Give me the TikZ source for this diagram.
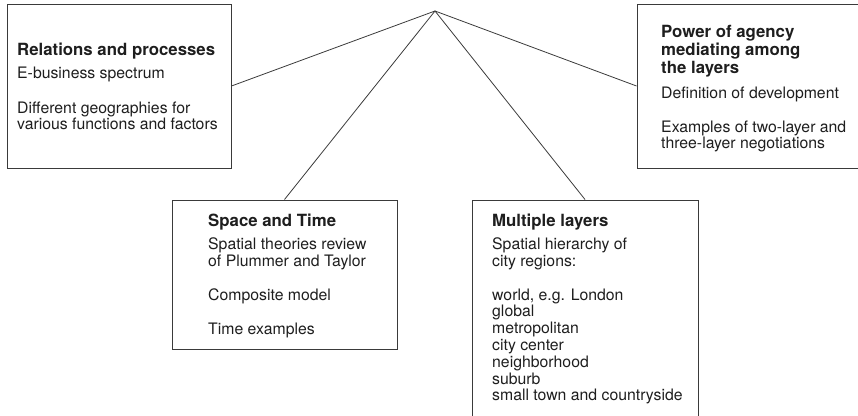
\documentclass[tikz,border=0pt]{standalone}
\usepackage{fontspec}
\setmainfont{TeX Gyre Heros}
\definecolor{ln}{HTML}{3A3A3A}
\definecolor{tx}{HTML}{1E1E1E}
\tikzset{
  boxshape/.style={draw=ln, line width=1pt, inner sep=0pt, rectangle},
  conn/.style={draw=ln, line width=0.8pt},
  ttl/.style={anchor=base west, inner sep=0pt, text=tx, font=\fontsize{16.8}{18}\selectfont\bfseries},
  bod/.style={anchor=base west, inner sep=0pt, text=tx, font=\fontsize{15.8}{16.8}\selectfont},
}
\begin{document}
\begin{tikzpicture}[x=1pt,y=-1pt]
\useasboundingbox (0,0) rectangle (858,415);
\clip (0,0) rectangle (858,415);
% boxes
\node[boxshape, minimum width=224pt, minimum height=164pt] (rel) at (119,86) {};
\node[boxshape, minimum width=226pt, minimum height=164pt] (pow) at (750,86) {};
\node[boxshape, minimum width=225pt, minimum height=149pt] (st) at (284.5,274.5) {};
\node[boxshape, minimum width=226pt, minimum height=232pt] (ml) at (585,316) {};
\coordinate (apex) at (435,11);
% connectors
\draw[conn] (rel.east) -- (apex) -- (pow.west);
\draw[conn] (st.north) -- (apex) -- (ml.north);
% Relations and processes
\node[ttl] (rel1) at (17,55) {Relations and processes};
\node[bod] (rel2) at (17,78) {E-business spectrum};
\node[bod] (rel3) at (17,113) {Different geographies for};
\node[bod] (rel4) at (17,129.5) {various functions and factors};
% Power of agency
\node[ttl] (pow1) at (661,37) {Power of agency};
\node[ttl] (pow2) at (661,55) {mediating among};
\node[ttl] (pow3) at (661,73) {the layers};
\node[bod] (pow4) at (661,98) {Definition of development};
\node[bod] (pow5) at (661,132) {Examples of two-layer and};
\node[bod] (pow6) at (661,148.5) {three-layer negotiations};
% Space and Time
\node[ttl] (st1) at (208,226) {Space and Time};
\node[bod] (st2) at (208,249) {Spatial theories review};
\node[bod] (st3) at (208,266) {of Plummer and Taylor};
\node[bod] (st4) at (208,300) {Composite model};
\node[bod] (st5) at (208,334) {Time examples};
% Multiple layers
\node[ttl] (ml1) at (492,226) {Multiple layers};
\node[bod] (ml2) at (492,249) {Spatial hierarchy of};
\node[bod] (ml3) at (492,266) {city regions:};
\node[bod] (ml4) at (492,300) {world, e.g. London};
\node[bod] (ml5) at (492,316.8) {global};
\node[bod] (ml6) at (492,333.6) {metropolitan};
\node[bod] (ml7) at (492,350.4) {city center};
\node[bod] (ml8) at (492,367.2) {neighborhood};
\node[bod] (ml9) at (492,384) {suburb};
\node[bod] (ml10) at (492,400.8) {small town and countryside};
\end{tikzpicture}
\end{document}
